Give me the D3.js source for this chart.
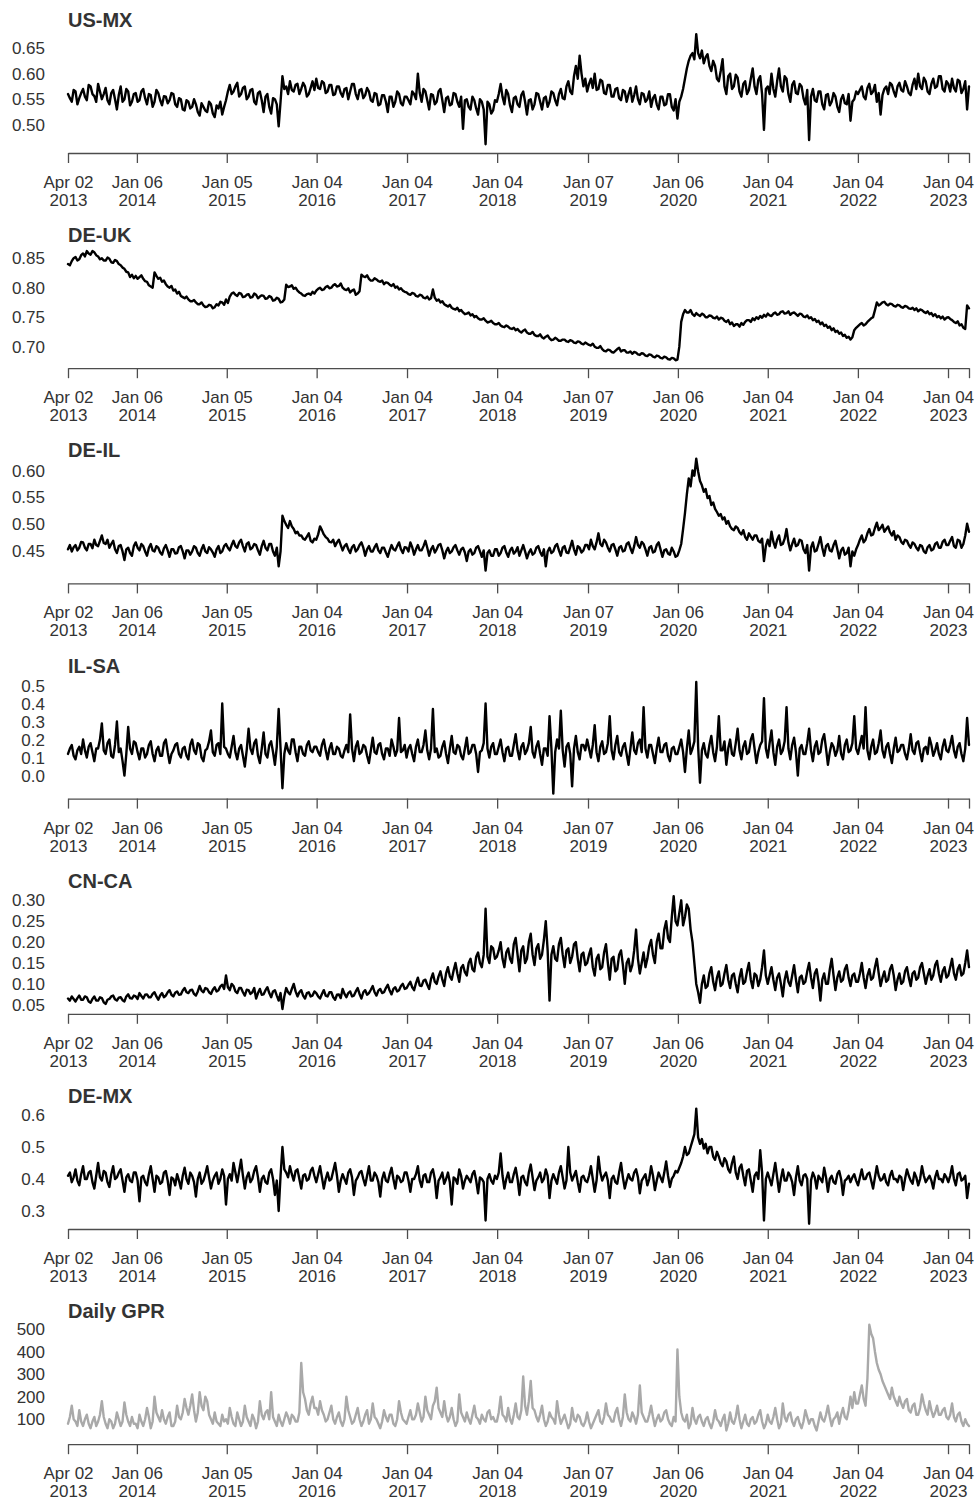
<!DOCTYPE html>
<html>
<head>
<meta charset="utf-8">
<script src="https://cdn.jsdelivr.net/npm/d3@7"></script>
<style>
  body { margin: 0; background: #fff; }
  text { font-family: "Liberation Sans", Arial, Helvetica, sans-serif; fill: #333; }
</style>
</head>
<body>
<svg id="chart" width="976" height="1501"></svg>
<script>
// first and last observation, the series are sampled evenly in between
const startDate = '2013-04-02';
const endDate = '2023-03-30';

// dates that carry a label on every x axis
const tickDates = ['2013-04-02', '2014-01-06', '2015-01-05', '2016-01-04', '2017-01-04',
  '2018-01-04', '2019-01-07', '2020-01-06', '2021-01-04', '2022-01-04', '2023-01-04'];

// values (about four per month), one row per year
const usMx = [
  0.560,0.552,0.545,0.568,0.565,0.540,0.552,0.562,0.570,0.555,0.548,0.578,0.575,0.560,0.556,0.545,0.580,0.565,0.550,0.560,0.572,0.548,0.540,0.562,0.568,0.550,0.530,0.558,0.575,0.545,0.550,0.570,0.565,0.538,0.545,0.560,
  0.562,0.545,0.548,0.565,0.570,0.552,0.540,0.560,0.558,0.535,0.545,0.568,0.562,0.548,0.538,0.556,0.555,0.542,0.548,0.562,0.560,0.540,0.535,0.552,0.550,0.530,0.528,0.548,0.545,0.532,0.535,0.550,0.540,0.525,0.518,0.542,0.535,0.528,0.525,0.545,0.540,0.522,0.515,0.538,0.532,0.545,0.520,0.535,
  0.548,0.565,0.578,0.560,0.565,0.575,0.582,0.555,0.560,0.572,0.575,0.550,0.555,0.568,0.570,0.545,0.540,0.562,0.565,0.548,0.525,0.555,0.560,0.535,0.522,0.552,0.550,0.540,0.497,0.545,0.595,0.570,0.575,0.560,0.585,0.568,0.565,0.578,0.580,0.560,0.570,0.582,0.575,0.555,0.560,0.572,0.585,0.568,
  0.590,0.572,0.570,0.585,0.582,0.562,0.565,0.578,0.578,0.558,0.560,0.575,0.575,0.562,0.555,0.570,0.572,0.550,0.565,0.580,0.580,0.560,0.550,0.568,0.570,0.552,0.558,0.572,0.565,0.548,0.545,0.562,0.560,0.538,0.540,0.558,0.558,0.545,0.525,0.555,0.555,0.535,0.545,0.565,0.560,0.542,0.538,0.555,
  0.555,0.548,0.540,0.565,0.560,0.550,0.600,0.562,0.545,0.570,0.565,0.548,0.530,0.560,0.558,0.540,0.545,0.565,0.570,0.548,0.525,0.552,0.555,0.538,0.540,0.562,0.560,0.545,0.535,0.555,0.492,0.548,0.550,0.535,0.530,0.555,0.548,0.532,0.520,0.550,0.545,0.530,0.462,0.545,0.540,0.522,0.528,0.548,
  0.545,0.560,0.580,0.555,0.540,0.568,0.560,0.538,0.525,0.552,0.555,0.540,0.535,0.558,0.565,0.545,0.520,0.548,0.550,0.530,0.540,0.562,0.560,0.545,0.530,0.552,0.555,0.535,0.545,0.565,0.562,0.548,0.538,0.560,0.570,0.552,0.550,0.575,0.585,0.565,0.560,0.595,0.615,0.590,0.635,0.600,0.575,0.590,
  0.565,0.580,0.590,0.572,0.600,0.568,0.570,0.588,0.585,0.562,0.560,0.578,0.578,0.555,0.555,0.570,0.572,0.552,0.548,0.568,0.565,0.545,0.560,0.572,0.545,0.558,0.575,0.550,0.540,0.562,0.560,0.545,0.550,0.565,0.535,0.552,0.558,0.540,0.530,0.555,0.555,0.538,0.540,0.560,0.560,0.535,0.528,0.550,
  0.512,0.545,0.555,0.570,0.590,0.610,0.625,0.635,0.640,0.628,0.677,0.640,0.630,0.645,0.620,0.632,0.638,0.615,0.605,0.625,0.615,0.590,0.585,0.605,0.628,0.575,0.560,0.595,0.600,0.570,0.575,0.598,0.592,0.565,0.555,0.580,0.585,0.560,0.568,0.590,0.610,0.575,0.560,0.588,0.595,0.560,0.490,0.570,
  0.575,0.560,0.600,0.570,0.555,0.585,0.610,0.575,0.565,0.595,0.590,0.560,0.545,0.578,0.585,0.562,0.560,0.580,0.575,0.552,0.540,0.568,0.470,0.555,0.570,0.548,0.545,0.565,0.565,0.540,0.530,0.558,0.560,0.538,0.545,0.562,0.555,0.535,0.525,0.550,0.558,0.542,0.540,0.560,0.508,0.545,0.550,0.565,
  0.560,0.568,0.575,0.555,0.550,0.572,0.580,0.560,0.565,0.578,0.545,0.562,0.520,0.558,0.570,0.575,0.560,0.582,0.578,0.565,0.555,0.575,0.582,0.568,0.565,0.585,0.575,0.562,0.558,0.578,0.590,0.570,0.600,0.575,0.570,0.592,0.585,0.565,0.560,0.580,0.590,0.572,0.575,0.595,0.595,0.570,0.565,0.585,
  0.580,0.565,0.590,0.572,0.565,0.588,0.585,0.562,0.570,0.585,0.530,0.575
];

const deUk = [
  0.840,0.838,0.845,0.850,0.852,0.846,0.848,0.855,0.858,0.853,0.862,0.858,0.856,0.862,0.860,0.855,0.853,0.848,0.850,0.846,0.846,0.851,0.849,0.843,0.842,0.847,0.845,0.840,0.838,0.834,0.832,0.827,0.826,0.818,0.822,0.816,
  0.820,0.815,0.818,0.821,0.815,0.811,0.810,0.804,0.802,0.800,0.826,0.820,0.815,0.817,0.810,0.812,0.806,0.802,0.800,0.803,0.795,0.797,0.790,0.793,0.786,0.784,0.782,0.785,0.780,0.777,0.777,0.779,0.775,0.772,0.772,0.775,0.770,0.767,0.768,0.771,0.770,0.765,0.767,0.772,0.770,0.776,0.775,0.771,
  0.780,0.774,0.785,0.790,0.792,0.788,0.786,0.791,0.790,0.784,0.785,0.788,0.789,0.783,0.784,0.790,0.788,0.782,0.785,0.787,0.786,0.781,0.782,0.786,0.784,0.778,0.779,0.783,0.781,0.775,0.776,0.780,0.805,0.801,0.802,0.804,0.798,0.800,0.795,0.792,0.790,0.787,0.786,0.789,0.790,0.788,0.793,0.790,
  0.795,0.798,0.800,0.796,0.797,0.801,0.803,0.799,0.800,0.804,0.806,0.802,0.803,0.807,0.800,0.797,0.796,0.799,0.792,0.795,0.797,0.788,0.790,0.794,0.822,0.819,0.818,0.821,0.815,0.812,0.812,0.816,0.814,0.811,0.810,0.812,0.806,0.809,0.808,0.805,0.803,0.806,0.800,0.802,0.797,0.799,0.795,0.793,
  0.792,0.789,0.788,0.791,0.790,0.786,0.785,0.788,0.787,0.783,0.782,0.785,0.780,0.782,0.797,0.783,0.778,0.780,0.775,0.777,0.772,0.770,0.768,0.771,0.766,0.764,0.763,0.766,0.760,0.762,0.758,0.755,0.756,0.758,0.753,0.755,0.750,0.752,0.748,0.746,0.746,0.748,0.744,0.741,0.742,0.744,0.740,0.738,
  0.738,0.740,0.736,0.734,0.733,0.736,0.734,0.731,0.730,0.732,0.728,0.730,0.726,0.724,0.727,0.729,0.724,0.722,0.722,0.725,0.720,0.718,0.718,0.721,0.716,0.714,0.717,0.719,0.714,0.711,0.712,0.715,0.713,0.710,0.710,0.712,0.712,0.709,0.708,0.711,0.710,0.707,0.706,0.709,0.708,0.705,0.704,0.707,
  0.705,0.703,0.702,0.705,0.700,0.698,0.698,0.701,0.696,0.693,0.692,0.695,0.694,0.691,0.690,0.693,0.696,0.698,0.692,0.694,0.694,0.690,0.690,0.692,0.688,0.691,0.690,0.687,0.686,0.689,0.688,0.685,0.684,0.687,0.686,0.683,0.682,0.685,0.684,0.681,0.680,0.683,0.682,0.679,0.678,0.681,0.680,0.677,
  0.678,0.700,0.742,0.755,0.762,0.758,0.758,0.762,0.755,0.752,0.757,0.754,0.752,0.756,0.754,0.750,0.750,0.753,0.752,0.749,0.748,0.751,0.746,0.749,0.748,0.744,0.742,0.745,0.738,0.741,0.735,0.738,0.738,0.734,0.740,0.737,0.742,0.745,0.745,0.742,0.748,0.745,0.750,0.747,0.752,0.749,0.754,0.751,
  0.756,0.753,0.752,0.756,0.758,0.754,0.755,0.759,0.760,0.756,0.757,0.760,0.754,0.757,0.758,0.755,0.752,0.756,0.755,0.751,0.750,0.753,0.748,0.750,0.745,0.747,0.742,0.744,0.738,0.741,0.735,0.737,0.732,0.734,0.728,0.731,0.725,0.727,0.722,0.724,0.718,0.720,0.715,0.717,0.712,0.716,0.728,0.732,
  0.735,0.738,0.740,0.736,0.738,0.742,0.745,0.748,0.750,0.762,0.775,0.770,0.772,0.775,0.776,0.772,0.770,0.773,0.772,0.769,0.768,0.771,0.770,0.767,0.766,0.769,0.768,0.765,0.764,0.766,0.762,0.765,0.760,0.763,0.762,0.759,0.757,0.760,0.755,0.757,0.752,0.755,0.750,0.752,0.748,0.751,0.746,0.749,
  0.750,0.747,0.745,0.742,0.740,0.743,0.736,0.738,0.732,0.730,0.770,0.765
];

const deIl = [
  0.452,0.460,0.448,0.456,0.460,0.450,0.455,0.466,0.465,0.455,0.450,0.462,0.462,0.454,0.470,0.460,0.458,0.468,0.478,0.464,0.462,0.470,0.455,0.462,0.468,0.452,0.445,0.458,0.460,0.448,0.432,0.452,0.455,0.445,0.440,0.458,
  0.465,0.455,0.450,0.462,0.458,0.448,0.440,0.455,0.462,0.450,0.448,0.458,0.455,0.446,0.442,0.454,0.460,0.450,0.438,0.452,0.452,0.444,0.445,0.456,0.458,0.448,0.435,0.450,0.450,0.442,0.448,0.458,0.455,0.445,0.440,0.452,0.460,0.448,0.445,0.456,0.452,0.446,0.438,0.452,0.458,0.445,0.448,0.458,
  0.462,0.455,0.450,0.460,0.468,0.458,0.455,0.465,0.470,0.458,0.448,0.462,0.465,0.452,0.455,0.462,0.460,0.450,0.442,0.458,0.468,0.455,0.450,0.462,0.462,0.448,0.440,0.455,0.420,0.448,0.515,0.505,0.498,0.492,0.505,0.495,0.490,0.482,0.485,0.478,0.478,0.472,0.470,0.476,0.482,0.468,0.465,0.472,
  0.470,0.480,0.495,0.488,0.480,0.475,0.472,0.466,0.465,0.470,0.458,0.465,0.470,0.460,0.450,0.458,0.462,0.452,0.445,0.456,0.460,0.448,0.452,0.460,0.465,0.455,0.440,0.452,0.458,0.448,0.448,0.456,0.462,0.450,0.445,0.455,0.455,0.446,0.438,0.450,0.460,0.452,0.450,0.458,0.465,0.452,0.445,0.456,
  0.455,0.448,0.465,0.456,0.442,0.452,0.460,0.450,0.450,0.458,0.468,0.455,0.440,0.452,0.458,0.446,0.452,0.460,0.462,0.450,0.435,0.448,0.455,0.445,0.448,0.456,0.460,0.450,0.442,0.452,0.455,0.446,0.430,0.448,0.452,0.442,0.445,0.455,0.458,0.448,0.438,0.450,0.412,0.445,0.450,0.440,0.440,0.452,
  0.452,0.440,0.445,0.455,0.458,0.446,0.438,0.450,0.455,0.444,0.448,0.456,0.440,0.450,0.460,0.448,0.435,0.446,0.452,0.442,0.445,0.455,0.458,0.447,0.440,0.452,0.420,0.448,0.455,0.445,0.448,0.458,0.462,0.450,0.440,0.455,0.458,0.446,0.445,0.456,0.468,0.452,0.442,0.458,0.455,0.446,0.450,0.460,
  0.460,0.452,0.470,0.458,0.452,0.465,0.482,0.462,0.458,0.470,0.465,0.455,0.448,0.460,0.462,0.452,0.440,0.455,0.458,0.448,0.450,0.462,0.465,0.454,0.445,0.458,0.475,0.460,0.455,0.466,0.462,0.452,0.440,0.455,0.458,0.446,0.448,0.460,0.465,0.452,0.438,0.450,0.452,0.444,0.442,0.455,0.448,0.438,
  0.440,0.450,0.462,0.490,0.520,0.555,0.585,0.570,0.600,0.590,0.622,0.598,0.580,0.572,0.560,0.565,0.548,0.552,0.535,0.540,0.528,0.522,0.515,0.518,0.508,0.512,0.500,0.505,0.495,0.490,0.488,0.495,0.492,0.484,0.480,0.488,0.475,0.470,0.482,0.476,0.470,0.478,0.478,0.468,0.465,0.472,0.430,0.458,
  0.470,0.458,0.485,0.466,0.455,0.470,0.478,0.460,0.462,0.472,0.490,0.465,0.450,0.462,0.472,0.458,0.460,0.470,0.468,0.452,0.445,0.460,0.412,0.455,0.465,0.448,0.450,0.462,0.475,0.455,0.440,0.458,0.462,0.450,0.448,0.460,0.468,0.452,0.435,0.450,0.455,0.442,0.445,0.455,0.420,0.448,0.440,0.452,
  0.460,0.470,0.478,0.465,0.470,0.482,0.490,0.478,0.480,0.492,0.502,0.488,0.492,0.498,0.485,0.490,0.495,0.484,0.478,0.486,0.470,0.478,0.475,0.466,0.462,0.470,0.468,0.460,0.455,0.465,0.462,0.455,0.450,0.460,0.458,0.448,0.445,0.456,0.460,0.450,0.452,0.462,0.465,0.455,0.455,0.466,0.470,0.460,
  0.460,0.468,0.475,0.458,0.455,0.470,0.468,0.455,0.462,0.478,0.500,0.485
];

const ilSa = [
  0.120,0.150,0.170,0.110,0.090,0.140,0.160,0.120,0.200,0.140,0.100,0.160,0.180,0.130,0.080,0.150,0.150,0.200,0.290,0.140,0.120,0.180,0.200,0.110,0.100,0.170,0.300,0.130,0.150,0.080,0.000,0.120,0.270,0.150,0.120,0.190,
  0.180,0.130,0.090,0.150,0.150,0.100,0.120,0.170,0.190,0.120,0.080,0.140,0.160,0.110,0.110,0.180,0.200,0.130,0.070,0.120,0.140,0.170,0.180,0.120,0.100,0.150,0.160,0.110,0.090,0.170,0.200,0.140,0.120,0.180,0.170,0.100,0.080,0.140,0.150,0.190,0.250,0.130,0.110,0.170,0.180,0.120,0.400,0.160,
  0.150,0.120,0.100,0.160,0.220,0.130,0.090,0.150,0.170,0.110,0.050,0.140,0.260,0.150,0.120,0.180,0.200,0.110,0.070,0.150,0.240,0.120,0.100,0.170,0.190,0.130,0.060,0.160,0.370,0.150,-0.070,0.120,0.180,0.140,0.120,0.200,0.200,0.130,0.080,0.160,0.160,0.120,0.110,0.170,0.190,0.140,0.130,0.160,
  0.160,0.130,0.110,0.170,0.200,0.140,0.090,0.150,0.180,0.120,0.120,0.160,0.150,0.110,0.100,0.140,0.170,0.130,0.340,0.150,0.080,0.160,0.190,0.120,0.130,0.170,0.160,0.110,0.070,0.140,0.210,0.130,0.120,0.170,0.180,0.120,0.090,0.150,0.150,0.110,0.200,0.160,0.110,0.140,0.320,0.130,0.140,0.170,
  0.100,0.150,0.170,0.120,0.080,0.160,0.200,0.130,0.130,0.170,0.250,0.140,0.090,0.150,0.370,0.130,0.150,0.100,0.110,0.160,0.190,0.120,0.070,0.150,0.220,0.130,0.120,0.170,0.160,0.110,0.090,0.150,0.210,0.120,0.130,0.170,0.170,0.120,0.020,0.130,0.140,0.180,0.400,0.150,0.100,0.160,0.180,0.120,
  0.120,0.160,0.200,0.130,0.080,0.150,0.160,0.110,0.110,0.170,0.230,0.140,0.090,0.160,0.180,0.120,0.140,0.180,0.270,0.130,0.100,0.160,0.190,0.120,0.060,0.150,0.150,0.110,0.330,0.150,-0.100,0.130,0.200,0.150,0.360,0.140,0.050,0.160,0.180,0.120,-0.060,0.150,0.220,0.130,0.090,0.170,0.170,0.140,
  0.200,0.150,0.100,0.170,0.280,0.130,0.080,0.160,0.190,0.120,0.130,0.180,0.330,0.140,0.090,0.170,0.220,0.130,0.110,0.160,0.180,0.120,0.060,0.150,0.240,0.140,0.120,0.180,0.200,0.130,0.380,0.150,0.100,0.170,0.170,0.120,0.070,0.150,0.210,0.130,0.130,0.170,0.180,0.110,0.080,0.150,0.160,0.120,
  0.120,0.160,0.200,0.130,0.020,0.150,0.250,0.120,0.150,0.190,0.520,0.160,-0.040,0.140,0.180,0.120,0.100,0.170,0.220,0.130,0.080,0.160,0.330,0.140,0.140,0.190,0.060,0.150,0.200,0.120,0.110,0.180,0.260,0.140,0.090,0.160,0.190,0.120,0.130,0.200,0.230,0.150,0.070,0.130,0.170,0.190,0.430,0.150,
  0.100,0.180,0.250,0.130,0.060,0.160,0.200,0.120,0.140,0.190,0.380,0.150,0.090,0.170,0.210,0.130,0.000,0.150,0.170,0.120,0.120,0.180,0.260,0.140,0.080,0.160,0.190,0.120,0.130,0.200,0.230,0.150,0.060,0.130,0.180,0.160,0.110,0.140,0.220,0.120,0.090,0.170,0.200,0.130,0.140,0.180,0.330,0.150,
  0.120,0.170,0.220,0.150,0.380,0.140,0.090,0.160,0.200,0.120,0.130,0.180,0.250,0.140,0.100,0.160,0.180,0.120,0.070,0.150,0.210,0.130,0.140,0.170,0.170,0.120,0.090,0.150,0.230,0.140,0.120,0.180,0.190,0.130,0.080,0.150,0.160,0.120,0.210,0.170,0.110,0.140,0.180,0.120,0.090,0.160,0.200,0.140,
  0.130,0.170,0.220,0.140,0.100,0.160,0.180,0.120,0.080,0.150,0.320,0.170
];

const cnCa = [
  0.065,0.060,0.070,0.064,0.058,0.066,0.072,0.062,0.062,0.070,0.068,0.058,0.055,0.064,0.070,0.060,0.060,0.068,0.066,0.056,0.052,0.062,0.064,0.070,0.072,0.063,0.060,0.067,0.068,0.061,0.058,0.070,0.075,0.066,0.065,0.072,
  0.070,0.064,0.078,0.071,0.065,0.074,0.075,0.068,0.068,0.076,0.080,0.070,0.062,0.072,0.078,0.068,0.072,0.080,0.085,0.074,0.070,0.079,0.082,0.074,0.075,0.084,0.090,0.080,0.078,0.085,0.086,0.076,0.072,0.082,0.095,0.084,0.080,0.090,0.088,0.080,0.076,0.086,0.092,0.082,0.085,0.094,0.098,0.088,
  0.120,0.092,0.085,0.100,0.095,0.082,0.078,0.090,0.090,0.080,0.072,0.086,0.085,0.076,0.080,0.090,0.065,0.078,0.088,0.074,0.075,0.085,0.092,0.078,0.068,0.082,0.085,0.072,0.060,0.078,0.040,0.070,0.090,0.080,0.075,0.088,0.100,0.082,0.070,0.080,0.085,0.072,0.065,0.078,0.080,0.070,0.072,0.082,
  0.078,0.070,0.065,0.076,0.085,0.072,0.070,0.080,0.080,0.068,0.062,0.074,0.075,0.066,0.088,0.076,0.068,0.078,0.082,0.070,0.072,0.082,0.090,0.076,0.065,0.080,0.085,0.074,0.078,0.086,0.095,0.080,0.072,0.084,0.088,0.078,0.080,0.090,0.098,0.084,0.075,0.088,0.092,0.082,0.085,0.095,0.100,0.088,
  0.090,0.098,0.105,0.092,0.085,0.102,0.115,0.096,0.095,0.108,0.110,0.098,0.088,0.112,0.125,0.105,0.100,0.118,0.130,0.110,0.095,0.125,0.140,0.118,0.110,0.132,0.150,0.125,0.105,0.138,0.145,0.128,0.120,0.150,0.160,0.135,0.130,0.165,0.175,0.150,0.140,0.170,0.280,0.165,0.150,0.190,0.185,0.160,
  0.165,0.180,0.200,0.160,0.140,0.175,0.185,0.160,0.150,0.195,0.210,0.170,0.130,0.180,0.190,0.150,0.160,0.200,0.220,0.170,0.145,0.185,0.195,0.160,0.170,0.205,0.250,0.180,0.060,0.170,0.190,0.160,0.155,0.195,0.210,0.170,0.140,0.180,0.185,0.150,0.165,0.195,0.200,0.160,0.130,0.170,0.175,0.145,
  0.150,0.170,0.185,0.140,0.120,0.160,0.170,0.135,0.140,0.175,0.195,0.150,0.110,0.160,0.165,0.130,0.135,0.170,0.180,0.145,0.100,0.150,0.160,0.130,0.145,0.180,0.230,0.160,0.125,0.150,0.175,0.140,0.160,0.190,0.205,0.170,0.150,0.200,0.220,0.185,0.185,0.230,0.250,0.210,0.200,0.260,0.310,0.250,
  0.240,0.270,0.300,0.240,0.260,0.290,0.280,0.230,0.200,0.150,0.100,0.080,0.055,0.100,0.120,0.090,0.095,0.125,0.140,0.105,0.085,0.115,0.130,0.095,0.100,0.125,0.145,0.110,0.090,0.120,0.125,0.100,0.080,0.115,0.135,0.100,0.105,0.130,0.150,0.110,0.090,0.125,0.120,0.095,0.110,0.140,0.180,0.120,
  0.100,0.120,0.140,0.110,0.085,0.115,0.125,0.100,0.070,0.110,0.130,0.105,0.095,0.120,0.145,0.110,0.080,0.115,0.120,0.100,0.105,0.130,0.150,0.115,0.090,0.125,0.135,0.105,0.060,0.110,0.125,0.100,0.100,0.135,0.160,0.120,0.085,0.115,0.130,0.105,0.110,0.135,0.145,0.115,0.095,0.120,0.125,0.105,
  0.105,0.125,0.150,0.115,0.090,0.120,0.135,0.110,0.115,0.140,0.160,0.125,0.095,0.115,0.130,0.105,0.110,0.135,0.145,0.120,0.085,0.110,0.125,0.100,0.105,0.130,0.140,0.115,0.095,0.125,0.130,0.110,0.115,0.140,0.150,0.125,0.100,0.120,0.135,0.110,0.120,0.145,0.155,0.125,0.105,0.130,0.140,0.115,
  0.120,0.140,0.160,0.125,0.110,0.135,0.145,0.120,0.125,0.150,0.180,0.140
];

const deMx = [
  0.410,0.420,0.390,0.405,0.430,0.395,0.380,0.415,0.440,0.400,0.400,0.420,0.425,0.390,0.370,0.410,0.450,0.405,0.395,0.425,0.420,0.390,0.375,0.415,0.440,0.400,0.405,0.420,0.430,0.395,0.360,0.405,0.415,0.395,0.390,0.420,
  0.420,0.395,0.330,0.405,0.410,0.390,0.380,0.415,0.440,0.400,0.360,0.410,0.405,0.385,0.390,0.420,0.425,0.395,0.350,0.405,0.400,0.380,0.415,0.395,0.370,0.410,0.435,0.400,0.385,0.420,0.410,0.390,0.345,0.400,0.420,0.385,0.395,0.415,0.440,0.405,0.370,0.395,0.410,0.420,0.385,0.400,0.430,0.410,
  0.320,0.400,0.415,0.395,0.450,0.420,0.390,0.425,0.460,0.410,0.370,0.405,0.420,0.390,0.400,0.425,0.440,0.405,0.360,0.400,0.410,0.390,0.385,0.420,0.430,0.400,0.350,0.395,0.300,0.410,0.500,0.430,0.420,0.405,0.440,0.415,0.395,0.425,0.430,0.400,0.370,0.410,0.415,0.395,0.400,0.425,0.435,0.410,
  0.390,0.415,0.440,0.405,0.370,0.400,0.420,0.395,0.400,0.425,0.450,0.410,0.360,0.395,0.415,0.400,0.385,0.420,0.430,0.405,0.350,0.395,0.405,0.420,0.425,0.400,0.380,0.410,0.440,0.395,0.395,0.420,0.410,0.390,0.345,0.400,0.420,0.395,0.390,0.415,0.435,0.400,0.370,0.410,0.405,0.390,0.395,0.420,
  0.420,0.395,0.360,0.400,0.400,0.415,0.440,0.395,0.375,0.410,0.415,0.390,0.390,0.420,0.430,0.400,0.340,0.395,0.405,0.420,0.385,0.400,0.420,0.390,0.320,0.405,0.400,0.385,0.430,0.410,0.370,0.395,0.410,0.400,0.390,0.415,0.425,0.395,0.355,0.405,0.400,0.390,0.270,0.400,0.415,0.395,0.385,0.410,
  0.400,0.420,0.480,0.410,0.370,0.400,0.420,0.390,0.390,0.415,0.435,0.400,0.350,0.405,0.410,0.390,0.380,0.420,0.445,0.405,0.365,0.395,0.405,0.420,0.390,0.400,0.430,0.410,0.340,0.395,0.415,0.400,0.385,0.420,0.440,0.405,0.370,0.395,0.500,0.420,0.395,0.410,0.425,0.390,0.360,0.405,0.410,0.395,
  0.390,0.410,0.440,0.400,0.360,0.395,0.470,0.420,0.395,0.410,0.420,0.395,0.340,0.400,0.410,0.390,0.385,0.420,0.450,0.405,0.370,0.395,0.415,0.400,0.395,0.420,0.430,0.405,0.355,0.395,0.405,0.415,0.380,0.400,0.440,0.410,0.365,0.395,0.420,0.405,0.390,0.420,0.455,0.410,0.375,0.400,0.410,0.425,
  0.420,0.435,0.450,0.470,0.500,0.475,0.480,0.500,0.520,0.540,0.620,0.530,0.510,0.525,0.495,0.510,0.480,0.500,0.500,0.470,0.460,0.485,0.470,0.450,0.440,0.465,0.455,0.430,0.420,0.450,0.470,0.420,0.400,0.435,0.445,0.410,0.380,0.425,0.430,0.395,0.360,0.410,0.420,0.400,0.490,0.420,0.270,0.400,
  0.420,0.400,0.380,0.415,0.450,0.405,0.360,0.400,0.430,0.395,0.395,0.420,0.410,0.390,0.350,0.405,0.440,0.395,0.380,0.410,0.415,0.400,0.260,0.395,0.420,0.405,0.370,0.410,0.400,0.390,0.435,0.405,0.360,0.400,0.410,0.390,0.385,0.415,0.425,0.400,0.350,0.395,0.400,0.410,0.390,0.405,0.415,0.395,
  0.380,0.405,0.430,0.400,0.400,0.415,0.420,0.395,0.370,0.405,0.440,0.410,0.395,0.400,0.415,0.390,0.380,0.410,0.425,0.400,0.400,0.390,0.410,0.405,0.365,0.400,0.430,0.410,0.395,0.385,0.420,0.405,0.380,0.400,0.440,0.410,0.390,0.400,0.410,0.395,0.370,0.405,0.425,0.400,0.400,0.390,0.415,0.405,
  0.390,0.410,0.440,0.400,0.380,0.415,0.420,0.395,0.400,0.410,0.340,0.385
];

const dailyGpr = [
  80,110,160,100,90,70,140,90,70,100,120,80,60,90,110,70,90,120,180,110,80,60,100,90,60,80,130,100,70,90,175,120,90,70,110,80,
  80,60,120,90,70,100,150,110,60,90,200,130,110,90,140,100,80,110,130,70,70,90,160,110,100,130,190,150,120,160,210,140,90,130,220,160,140,200,180,120,100,80,130,90,80,70,120,90,
  100,80,150,110,80,70,130,100,70,90,160,110,90,70,120,100,60,90,180,120,100,130,140,100,220,110,90,70,120,90,70,100,130,110,80,120,110,90,90,130,350,220,190,140,120,170,200,150,
  150,120,180,140,120,90,100,130,160,100,80,110,130,90,70,100,200,140,110,80,90,120,150,100,70,90,120,140,80,100,170,110,100,80,60,90,140,110,90,120,120,80,70,100,180,130,100,90,
  80,110,140,100,100,120,170,130,90,110,200,140,120,100,160,180,240,150,130,110,180,120,90,110,150,100,70,90,210,130,110,90,130,100,80,120,160,110,100,80,120,100,90,130,140,100,110,90,
  90,130,200,120,110,90,150,100,80,120,170,110,100,140,290,160,120,180,270,150,140,110,90,120,160,100,70,90,130,110,100,80,180,120,80,100,120,90,60,80,150,100,90,120,110,80,70,90,
  130,90,60,80,100,120,140,90,80,110,170,120,110,90,90,130,150,100,70,110,210,130,100,90,130,110,80,120,250,130,110,90,90,120,160,110,70,100,120,90,100,130,140,100,80,70,110,90,
  410,200,130,100,90,120,60,80,150,100,80,110,120,90,70,100,110,80,60,90,140,100,90,70,100,120,50,80,130,90,80,110,160,100,60,90,120,80,70,100,110,80,90,120,140,90,60,80,
  120,90,80,110,150,100,60,80,170,110,90,120,130,90,70,100,110,80,60,90,140,110,80,100,100,70,50,90,130,100,90,120,160,110,70,100,110,130,80,120,150,110,100,140,200,150,220,170,
  170,210,250,190,160,280,520,480,460,400,350,320,300,270,250,230,210,190,240,200,180,160,200,170,150,180,190,140,130,160,170,120,120,150,210,170,140,120,180,140,110,130,160,120,120,140,150,110,
  100,120,170,110,90,120,130,90,70,100,80,70
];

// panel titles, y ranges and y tick labels
const titles = ['US-MX', 'DE-UK', 'DE-IL', 'IL-SA', 'CN-CA', 'DE-MX', 'Daily GPR'];
const series = [usMx, deUk, deIl, ilSa, cnCa, deMx, dailyGpr];
const yDomains = [[0.4527, 0.6813], [0.6703, 0.8686], [0.3956, 0.615], [-0.1056, 0.544],
  [0.038, 0.318], [0.256, 0.622], [6.7, 526.7]];
const yTicks = [
  [0.50, 0.55, 0.60, 0.65],
  [0.70, 0.75, 0.80, 0.85],
  [0.45, 0.50, 0.55, 0.60],
  [0.0, 0.1, 0.2, 0.3, 0.4, 0.5],
  [0.05, 0.10, 0.15, 0.20, 0.25, 0.30],
  [0.3, 0.4, 0.5, 0.6],
  [100, 200, 300, 400, 500]
];
const yFormats = ['.2f', '.2f', '.2f', '.1f', '.2f', '.1f', 'd'];
const lineColors = ['#000', '#000', '#000', '#000', '#000', '#000', '#a9a9a9'];

const parseDate = d3.timeParse('%Y-%m-%d');
const t0 = parseDate(startDate);
const t1 = parseDate(endDate);

const svg = d3.select('#chart');
const x = d3.scaleTime().domain([t0, t1]).range([68, 969]);

const panelStep = 215.2;
const fmtDay = d3.timeFormat('%b %d');
const fmtYear = d3.timeFormat('%Y');

series.forEach((values, k) => {
  const axisY = 153 + k * panelStep;
  const y = d3.scaleLinear().domain(yDomains[k]).range([axisY - 4, axisY - 121]);
  const dates = values.map((v, i) => new Date(+t0 + i * (t1 - t0) / (values.length - 1)));

  const g = svg.append('g');

  g.append('text')
    .attr('x', 68)
    .attr('y', axisY - 126)
    .attr('font-size', 20)
    .attr('font-weight', 'bold')
    .text(titles[k]);

  g.selectAll('.ylab')
    .data(yTicks[k])
    .join('text')
    .attr('class', 'ylab')
    .attr('x', 45)
    .attr('y', d => y(d))
    .attr('dy', '0.36em')
    .attr('text-anchor', 'end')
    .attr('font-size', 17)
    .text(d3.format(yFormats[k]));

  const line = d3.line()
    .x((d, i) => x(dates[i]))
    .y(d => y(d));

  g.append('path')
    .datum(values)
    .attr('fill', 'none')
    .attr('stroke', lineColors[k])
    .attr('stroke-width', 2.4)
    .attr('stroke-linejoin', 'round')
    .attr('stroke-linecap', 'round')
    .attr('d', line);

  // x axis: labelled dates plus an unlabelled tick at the last observation
  const xAxis = d3.axisBottom(x)
    .tickValues(tickDates.map(parseDate).concat([t1]))
    .tickSize(10)
    .tickSizeOuter(0);

  const ax = g.append('g')
    .attr('transform', `translate(0,${axisY})`)
    .call(xAxis);

  ax.select('.domain').attr('stroke', '#4d4d4d').attr('stroke-width', 1.3);
  ax.selectAll('.tick line').attr('stroke', '#4d4d4d').attr('stroke-width', 1.3);
  ax.selectAll('.tick text').each(function(d, i) {
    const t = d3.select(this)
      .text(null)
      .attr('dy', null)
      .attr('y', null)
      .attr('font-size', 17)
      .attr('font-family', '"Liberation Sans", Arial, Helvetica, sans-serif')
      .attr('fill', '#333');
    if (i >= tickDates.length) return;
    t.append('tspan').attr('x', 0).attr('y', 35).text(fmtDay(d));
    t.append('tspan').attr('x', 0).attr('y', 53).text(fmtYear(d));
  });
});
</script>
</body>
</html>
